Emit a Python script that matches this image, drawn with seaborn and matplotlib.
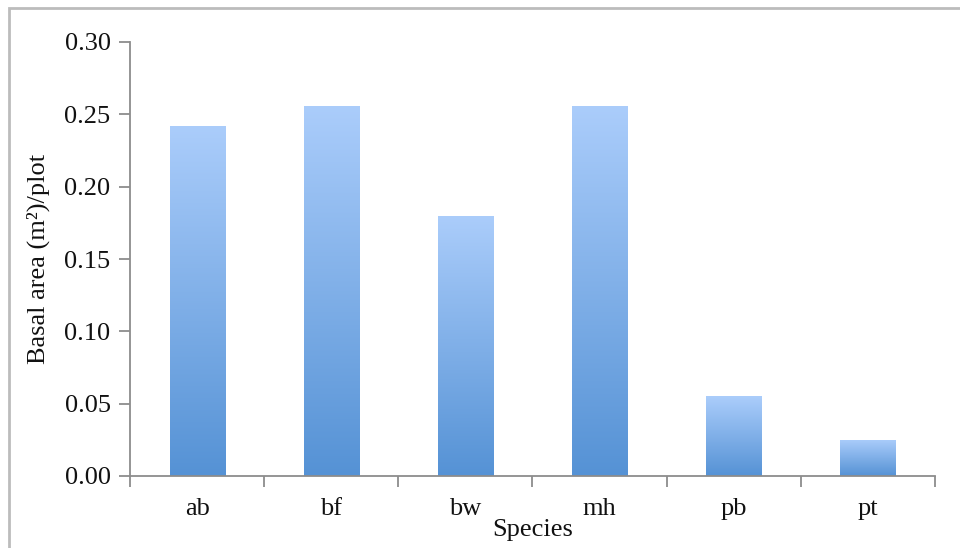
import matplotlib
matplotlib.use("Agg")
import matplotlib.pyplot as plt
import seaborn as sns
import numpy as np
import pandas as pd
from matplotlib.patches import Rectangle
from matplotlib.colors import LinearSegmentedColormap

species = ["ab", "bf", "bw", "mh", "pb", "pt"]
basal_area = [0.242, 0.256, 0.180, 0.256, 0.055, 0.025]
y_ticks = [0.00, 0.05, 0.10, 0.15, 0.20, 0.25, 0.30]

sns.set_theme(style="white")
plt.rcParams['font.family'] = ['Liberation Serif', 'DejaVu Serif']

df = pd.DataFrame({"Species": species, "Basal": basal_area})

fig = plt.figure(figsize=(9.6, 5.48), dpi=100)
ax = fig.add_axes([130/960, 1-476/548, (935-130)/960, (476-42)/548])

sns.barplot(data=df, x="Species", y="Basal", ax=ax, width=0.41, color="#7aaae5", saturation=1)

ax.set_ylim(0, 0.30)
ax.set_xlim(-0.5, len(species) - 0.5)

cmap = LinearSegmentedColormap.from_list("g", ["#5592d5", "#abcdfb"])
grad = np.linspace(0, 1, 256).reshape(-1, 1)
for p in ax.patches:
    x0, y0 = p.get_x(), p.get_y()
    w, h = p.get_width(), p.get_height()
    p.set_facecolor("none")
    p.set_edgecolor("none")
    im = ax.imshow(grad, cmap=cmap, origin="lower", aspect="auto",
                   extent=[x0, x0 + w, y0, y0 + h], zorder=2, interpolation="bilinear")
    im.set_clip_path(p)

ax.set_ylim(0, 0.30)
ax.set_xlim(-0.5, len(species) - 0.5)

ax.set_yticks(y_ticks)
ax.set_yticklabels([f"{v:.2f}" for v in y_ticks])
ax.set_xticks(range(len(species)))
ax.set_xticklabels(species)
ax.set_xticks(np.arange(-0.5, len(species), 1.0), minor=True)

for s in ["top", "right"]:
    ax.spines[s].set_visible(False)
for s in ["left", "bottom"]:
    ax.spines[s].set_color("#8c8c8c")
    ax.spines[s].set_linewidth(1.3)

ax.tick_params(axis="y", which="major", direction="out", length=8, width=1.3,
               color="#8c8c8c", labelsize=19, pad=6, left=True, labelcolor="#111111")
ax.tick_params(axis="x", which="major", length=0, labelsize=19, pad=16, labelcolor="#111111")
ax.tick_params(axis="x", which="minor", direction="out", length=8, width=1.3,
               color="#8c8c8c", bottom=True)

ax.set_xlabel("Species", fontsize=19, labelpad=-1, color="#111111")
ax.set_ylabel("Basal area (m²)/plot", fontsize=19, color="#111111")
ax.yaxis.set_label_coords(-0.099, 0.5)

frame = Rectangle((9/960, -0.1), 1.2, 1.1 - 8/548, transform=fig.transFigure,
                  fill=False, edgecolor="#bcbcbc", linewidth=2)
fig.patches.append(frame)

fig.savefig("out.png", dpi=100)
